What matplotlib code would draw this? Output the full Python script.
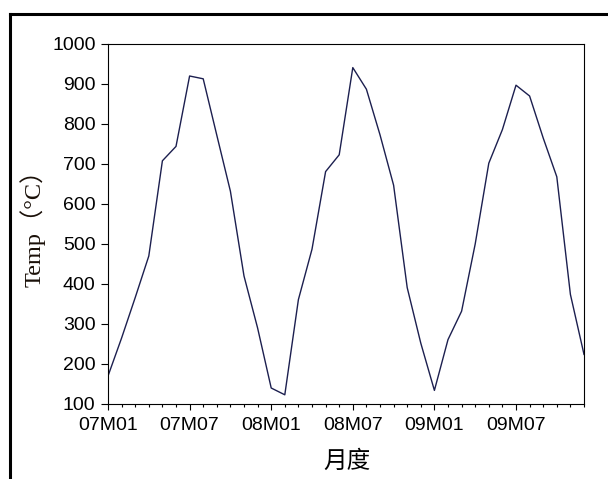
import matplotlib
matplotlib.use("Agg")
import matplotlib.pyplot as plt
from matplotlib.lines import Line2D
from matplotlib.ticker import FixedLocator, MultipleLocator

# ---- data ----
tick_labels = ["07M01", "07M07", "08M01", "08M07", "09M01", "09M07"]
months = list(range(36))
temps = [170, 265, 366, 470, 708, 744, 920, 913, 772, 632, 420, 290,
         140, 123, 361, 487, 681, 723, 941, 887, 773, 647, 391, 252,
         134, 261, 332, 500, 702, 786, 897, 870, 765, 668, 374, 224]
y_ticks = [100, 200, 300, 400, 500, 600, 700, 800, 900, 1000]

W, H = 608, 479
fig = plt.figure(figsize=(W / 100, H / 100), dpi=100)
fig.patch.set_facecolor("white")

ax = fig.add_axes([108 / W, 1 - 404 / H, (584 - 108) / W, (404 - 44) / H])
ax.plot(months, temps, color="#1c1f4f", lw=1.0)

ax.set_xlim(0, 35)
ax.set_ylim(100, 1000)
ax.xaxis.set_major_locator(FixedLocator([0, 6, 12, 18, 24, 30]))
ax.set_xticklabels(tick_labels)
ax.xaxis.set_minor_locator(MultipleLocator(1))
ax.set_yticks(y_ticks)
ax.set_yticklabels([str(v) for v in y_ticks])

for s in ax.spines.values():
    s.set_linewidth(0.8)
    s.set_color("black")

ax.tick_params(axis="both", which="major", direction="out",
               width=0.8, labelsize=14, colors="black")
ax.tick_params(axis="x", which="major", length=4.3, pad=5)
ax.tick_params(axis="x", which="minor", direction="out", length=2.5, width=0.8)
ax.tick_params(axis="y", which="major", length=5, pad=4)
for lab in ax.get_xticklabels() + ax.get_yticklabels():
    lab.set_family(["Liberation Sans", "DejaVu Sans"])

fig.text(33 / W, 1 - 222 / H, "Temp（°C）", rotation=90, ha="center", va="center",
         fontsize=17.5, family=["Liberation Serif", "Noto Sans CJK SC"], color="#1a1008")
fig.text(347 / W, 1 - 461 / H, "月度", ha="center", va="center",
         fontsize=17, family=["Noto Sans CJK SC", "DejaVu Sans"], color="black")

# outer frame (top and left visible)
fig.add_artist(Line2D([10 / W, 1.0], [1 - 14 / H, 1 - 14 / H], transform=fig.transFigure,
                      color="black", lw=2.2))
fig.add_artist(Line2D([10 / W, 10 / W], [1 - 14 / H, 0.0], transform=fig.transFigure,
                      color="black", lw=2.2))

fig.savefig("out.png", dpi=100)
